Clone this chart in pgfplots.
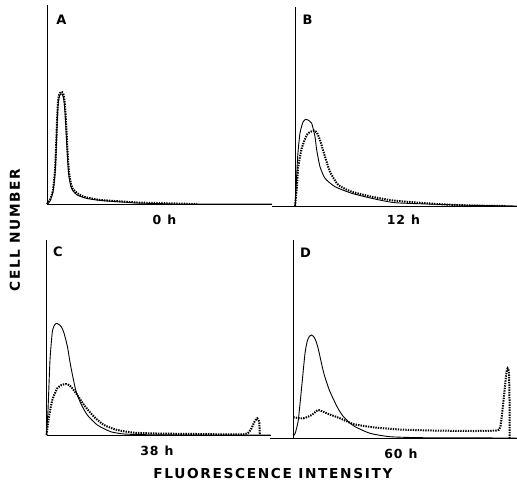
\documentclass[border=0pt]{standalone}
\usepackage{fontspec}
\setmainfont{DejaVu Sans}
\usepackage{pgfplots}
\pgfplotsset{compat=1.18}

% one data unit = 1bp, so panels are laid out in picture pixels
\pgfplotsset{
  panel/.style={scale only axis, anchor=south west,
    axis x line*=bottom, axis y line*=middle,
    xtick=\empty, ytick=\empty, ymin=0, clip=false,
    axis line style={line width=0.8bp, black}},
  solidc/.style={black, line width=0.9bp, smooth, tension=0.35, no marks},
  dotc/.style={black, line width=2bp, dash pattern=on 1.4bp off 1.1bp,
    smooth, tension=0.35, no marks},
}
\newcommand{\lbl}[2]{\fontsize{#1}{#1}\selectfont\bfseries\addfontfeatures{LetterSpace=#2}}

\begin{document}
\begin{tikzpicture}
\path[use as bounding box] (0,0) rectangle (517bp,-491bp);

% A: 0 h
\begin{axis}[panel, at={(47bp,-204bp)}, width=225bp, height=199bp,
  xmin=0, xmax=225, ymax=199]
\addplot[solidc] coordinates {(0,0) (3,3) (6,12) (8,30) (9,50) (10,77) (11,98)
  (12,106) (13,109) (14,110) (15,110) (16,108) (17,103) (18,92) (19,74) (20,55)
  (21,38) (22,27) (24,17) (26,13) (30,9) (35,7) (40,5.5) (50,4) (60,3) (75,2)
  (90,1) (110,0.5) (130,0) (225,0)};
\addplot[dotc] coordinates {(0,0) (3,4) (6,14) (8,34) (9,55) (10,82) (11,102)
  (12,109) (13,111) (14,112) (15,112) (16,111) (17,107) (18,98) (19,82) (20,63)
  (21,45) (22,32) (24,20) (26,15) (30,11) (35,8) (40,6.5) (50,4.5) (60,3.5)
  (75,2.5) (90,1.5) (110,1) (130,0.5) (150,0)};
\end{axis}

% B: 12 h
\begin{axis}[panel, at={(272bp,-206bp)}, width=245bp, height=199bp,
  xmin=-23, xmax=222, ymax=199]
\addplot[solidc] coordinates {(0,0) (1,16) (2.7,50) (5,73) (8,84) (10.7,86.7)
  (13,86) (16.7,82.7) (20,69.3) (21.7,56) (25,39.3) (30,27.7) (40,19.3)
  (56.7,12.7) (76.7,7.7) (100,3.3) (142,1.7) (175,0.7) (222,0)};
\addplot[dotc] coordinates {(0,0) (1.7,16) (3.3,39.3) (6.7,57.7) (11.7,71)
  (15,74) (19.3,75.3) (22,73) (25,66) (30,49.3) (35,34.3) (43.3,21) (56.7,14.3)
  (76.7,9.3) (100,5.3) (142,2) (175,0.5) (210,0)};
\end{axis}

% C: 38 h
\begin{axis}[panel, at={(46.5bp,-435bp)}, width=224bp, height=195bp,
  xmin=0, xmax=224, ymax=195]
\addplot[solidc] coordinates {(0,0) (1.5,25) (3.5,75) (5.8,103) (8,110)
  (10.2,111.7) (12.5,110.5) (15,108) (17.5,102) (20.8,89) (24.2,69) (29.2,45)
  (34.2,31.7) (40.8,20) (50.8,10) (64.2,3.3) (77.5,1) (100,0.3) (140,0) (224,0)};
\addplot[dotc] coordinates {(0,0) (2.5,18.3) (5.8,35) (10.8,46.7) (15,50)
  (19.2,51) (22.5,50) (25.8,46.7) (30.8,40) (37.5,30) (47.5,18.3) (57.5,10)
  (70.8,5) (87.5,2.3) (110,1.5) (150,1) (197,0.7) (204,5) (208,13.3)
  (210.7,16.7) (212.7,13.3) (213.3,0)};
\end{axis}

% D: 60 h
\begin{axis}[panel, at={(270bp,-438bp)}, width=247bp, height=198bp,
  xmin=-23.3, xmax=223.7, ymax=198]
\addplot[solidc] coordinates {(0,2) (2,5) (5,18) (8.4,51.3) (11.7,84.7) (14,97)
  (16,101.5) (18.4,103) (21,100.5) (23,96) (25,89) (27,80) (29,71) (31,63)
  (33.4,55.5) (36,48) (40,39) (45,29) (50,21.5) (56,15.5) (61.7,11.3)
  (76.7,4.7) (96.7,1.3) (130,0.3) (223,0)};
\addplot[dotc] coordinates {(0,20.7) (10,19.7) (18.4,23) (25,28) (33.4,24.7)
  (46.7,19.7) (60,14) (80,10.7) (106.7,8.5) (140,7.5) (180,7) (203,7.5)
  (207,11) (210.3,38) (213,64.7) (214.3,69.7) (215.7,64.7) (216.3,31.3)
  (216.3,0)};
\end{axis}

% panel letters and times
\node[font=\lbl{13bp}{0}] at (61.5bp,-20bp) {A};
\node[font=\lbl{13bp}{0}] at (307.5bp,-20bp) {B};
\node[font=\lbl{13bp}{0}] at (58bp,-252bp) {C};
\node[font=\lbl{13bp}{0}] at (305.5bp,-253bp) {D};
\node[font=\lbl{12.5bp}{6}] at (164.5bp,-220bp) {0\hspace{6bp}h};
\node[font=\lbl{12.5bp}{6}] at (403.5bp,-220bp) {12\hspace{6bp}h};
\node[font=\lbl{12.5bp}{6}] at (157bp,-451bp) {38\hspace{6bp}h};
\node[font=\lbl{12.5bp}{6}] at (401bp,-454bp) {60\hspace{6bp}h};

% axis titles
\node[font=\lbl{13.7bp}{12}] at (273bp,-474bp) {FLUORESCENCE INTENSITY};
\node[font=\lbl{13.7bp}{12}, rotate=90] at (15bp,-230bp) {CELL NUMBER};
\end{tikzpicture}
\end{document}
